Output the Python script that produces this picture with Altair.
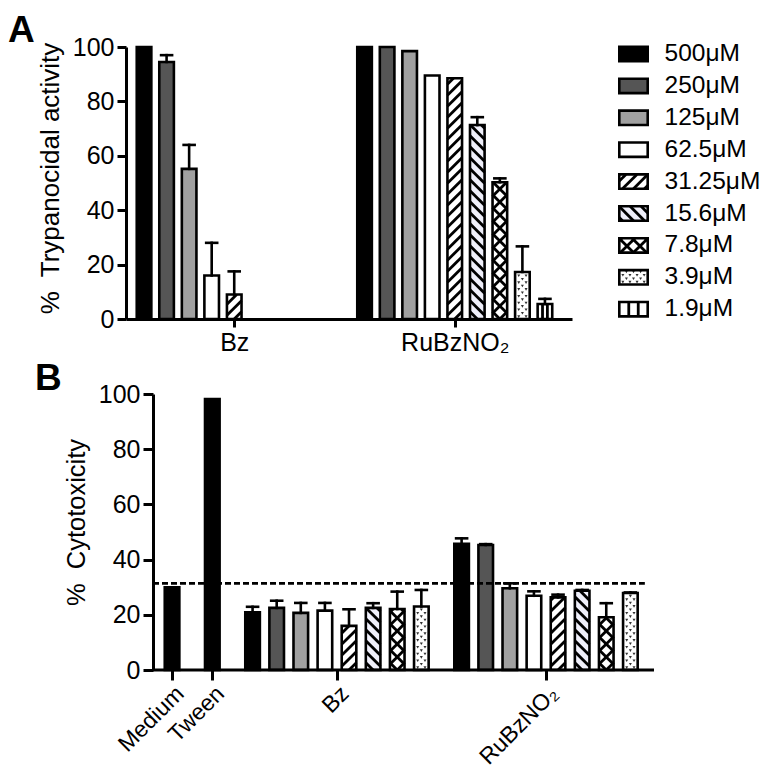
import math
import altair as alt
import pandas as pd

FONT = "Liberation Sans"

# ---------------- data ----------------
CONCS = ["500μM", "250μM", "125μM", "62.5μM", "31.25μM", "15.6μM", "7.8μM", "3.9μM", "1.9μM"]

A_GROUPS = ["Bz", "RuBzNO₂"]
A_BZ_MEAN = [100, 94.5, 55.2, 16.0, 9.0, 0, 0, 0, 0]
A_BZ_ERR = [0, 2.5, 8.8, 12.0, 8.5, 0, 0, 0, 0]
A_RU_MEAN = [100, 100, 98.5, 89.5, 88.5, 71.3, 50.3, 17.3, 5.5]
A_RU_ERR = [0, 0, 0, 0, 0, 2.9, 1.4, 9.4, 1.9]

B_GROUPS = ["Medium", "Tween", "Bz", "RuBzNO₂"]
B_CTRL_MEAN = [30.0, 98.2]
B_CTRL_ERR = [0.0, 0.0]
B_BZ_MEAN = [20.9, 22.5, 20.7, 21.5, 16.0, 22.5, 22.1, 23.0]
B_BZ_ERR = [2.0, 2.6, 3.6, 2.8, 6.0, 1.7, 6.3, 6.0]
B_RU_MEAN = [45.7, 45.3, 29.6, 26.9, 26.3, 28.7, 19.1, 27.9]
B_RU_ERR = [2.0, 0.3, 1.8, 1.6, 1.0, 0.3, 5.1, 0.2]
B_THRESHOLD = 31.4

A_YTITLE = "%\u00a0 Trypanocidal activity"
B_YTITLE = "%\u00a0 Cytotoxicity"

# ---------------- styles ----------------
FILLS = ["#000000", "#555555", "#a0a0a0", "#ffffff", "#ffffff", "#efeffa", "#ffffff", "#ffffff", "#ffffff"]
PATTERNS = [None, None, None, None, "fwd", "back", "cross", "dots", "vert"]
CTRL_KEY = "control"
FILL_SCALE = alt.Scale(domain=CONCS + [CTRL_KEY], range=FILLS + ["#000000"])

# ---------------- layout constants ----------------
A_W, A_H = 446, 272
B_W, B_H = 501, 276
B_SHIFT_PX = 27          # panel B axis sits this far right of panel A's axis
A_GAP, B_GAP = 0.78, 0.67
A_PAD_L, A_PAD_R = 0.8, 1.2
B_PAD_L, B_PAD_R = 0.79, 0.98
BAR_HALF_PX = 7.3
CAP_HALF_PX = 5.5
OUTLINE_W = 2.6
HATCH_W = 2.8
LABEL_FS = 25
B_XLABEL_FS = 23
LEGEND_FS = 24.5


def positions(sizes, gap):
    out, p = [], 0.0
    for n in sizes:
        out.append([p + i for i in range(n)])
        p += n + gap
    return out


a_pos = positions([9, 9], A_GAP)
A_XMIN, A_XMAX = -A_PAD_L, a_pos[-1][-1] + A_PAD_R
A_UX, A_UY = A_W / (A_XMAX - A_XMIN), A_H / 100.0

b_pos = positions([1, 1, 8, 8], B_GAP)
B_XMIN, B_XMAX = -B_PAD_L, b_pos[-1][-1] + B_PAD_R
B_UX, B_UY = B_W / (B_XMAX - B_XMIN), B_H / 100.0
B_XMIN_VIEW = B_XMIN - B_SHIFT_PX / B_UX


# ---------------- hatch geometry ----------------
def clip(x0, y0, x1, y1, xmin, xmax, ymin, ymax):
    dx, dy = x1 - x0, y1 - y0
    t0, t1 = 0.0, 1.0
    for p, q in ((-dx, x0 - xmin), (dx, xmax - x0), (-dy, y0 - ymin), (dy, ymax - y0)):
        if p == 0:
            if q < 0:
                return None
        else:
            t = q / p
            if p < 0:
                if t > t1:
                    return None
                t0 = max(t0, t)
            else:
                if t < t0:
                    return None
                t1 = min(t1, t)
    if t1 <= t0:
        return None
    sx0, sy0, sx1, sy1 = x0 + t0 * dx, y0 + t0 * dy, x0 + t1 * dx, y0 + t1 * dy
    if math.hypot(sx1 - sx0, sy1 - sy0) < 1.0:
        return None
    return (sx0, sy0, sx1, sy1)


def pattern_px(kind, xa, xb, ya, yb):
    segs, pts = [], []
    w, h = xb - xa, yb - ya
    xc = (xa + xb) / 2
    if kind in ("fwd", "back", "cross"):
        period = 13.0 if kind == "cross" else 11.0
        slopes = {"fwd": [1.0], "back": [-1.0], "cross": [1.0, -1.0]}[kind]
        n_lo = -int(math.ceil(w / period)) - 2
        n_hi = int(math.ceil(h / period)) + 2
        for s in slopes:
            for k in range(n_lo, n_hi + 1):
                c = ya + k * period
                xl, xr = xa - w - h - 10, xb + w + h + 10
                seg = clip(xl, c + s * (xl - xc), xr, c + s * (xr - xc), xa, xb, ya, yb)
                if seg:
                    segs.append(seg)
    elif kind == "vert":
        for f in (1 / 3, 2 / 3):
            segs.append((xa + f * w, ya, xa + f * w, yb))
    elif kind == "dots":
        j, y = 0, ya + 2.4
        n_cols = max(1, int(round(w / 7.0)))
        while y < yb - 1.8:
            if j % 2 == 0:
                cols = [(k + 0.5) / n_cols for k in range(n_cols)]
            else:
                cols = [k / n_cols for k in range(1, n_cols)] or [0.5]
            for f in cols:
                pts.append((xa + f * w, y))
            y += 3.4
            j += 1
    return segs, pts


def shapes_to_rows(items, ux, uy):
    """items: (centre_x_data, base_y_data, key, pattern, half_w_px, y0_px, y1_px)."""
    rects, segs, pts = [], [], []
    for cx, by, key, pat, hw, y0, y1 in items:
        rects.append(dict(xl=cx - hw / ux, xr=cx + hw / ux, y0=by + y0 / uy, y1=by + y1 / uy, key=key))
        if pat:
            s, p = pattern_px(pat, -hw, hw, y0, y1)
            for (a, b, c, d) in s:
                segs.append(dict(x=cx + a / ux, x2=cx + c / ux, y=by + b / uy, y2=by + d / uy))
            for (a, b) in p:
                pts.append(dict(x=cx + a / ux, y=by + b / uy))
    return rects, segs, pts


def filled_layers(rects, segs, pts, X, Y):
    rects = pd.DataFrame(rects)
    return [
        alt.Chart(rects).mark_rect(strokeWidth=0).encode(
            x=X("xl"), x2="xr:Q", y=Y("y0"), y2="y1:Q",
            fill=alt.Fill("key:N", scale=FILL_SCALE, legend=None)),
        alt.Chart(pd.DataFrame(segs)).mark_rule(color="black", strokeWidth=HATCH_W, strokeCap="butt").encode(
            x=X("x"), x2="x2:Q", y=Y("y"), y2="y2:Q"),
        alt.Chart(pd.DataFrame(pts)).mark_point(filled=True, shape="triangle-down", size=9,
                                                color="#333333", opacity=1).encode(x=X("x"), y=Y("y")),
        alt.Chart(rects).mark_rect(fillOpacity=0, stroke="black", strokeWidth=OUTLINE_W).encode(
            x=X("xl"), x2="xr:Q", y=Y("y0"), y2="y1:Q"),
    ]


# ---------------- panel builder ----------------
def build_panel(bars, ux, uy, xmin, xmax, xaxis, yaxis, width, height, extra_layers):
    items, err_rows = [], []
    for b in bars:
        if b["value"] <= 0:
            continue
        p, v = b["pos"], b["value"]
        items.append((p, 0.0, b["key"], b["pattern"], BAR_HALF_PX, 0.0, v * uy))
        if b["err"] > 0:
            top = v + b["err"]
            err_rows.append(dict(x=p, x2=p, y=v, y2=top))
            err_rows.append(dict(x=p - CAP_HALF_PX / ux, x2=p + CAP_HALF_PX / ux, y=top, y2=top))
    rects, segs, pts = shapes_to_rows(items, ux, uy)

    xs = alt.Scale(domain=[xmin, xmax], nice=False, zero=False)
    ys = alt.Scale(domain=[0, 100], nice=False)

    def X(f):
        return alt.X(f"{f}:Q", scale=xs, axis=xaxis)

    def Y(f):
        return alt.Y(f"{f}:Q", scale=ys, axis=yaxis)

    errs = alt.Chart(pd.DataFrame(err_rows)).mark_rule(
        color="black", strokeWidth=OUTLINE_W, strokeCap="square"
    ).encode(x=X("x"), x2="x2:Q", y=Y("y"), y2="y2:Q")
    layers = filled_layers(rects, segs, pts, X, Y) + [errs] + [f(X, Y) for f in extra_layers]
    return alt.layer(*layers).properties(width=width, height=height)


def label_expr(centers, names):
    expr = "''"
    for c, n in reversed(list(zip(centers, names))):
        expr = f"abs(datum.value - {c:.4f}) < 0.01 ? '{n}' : {expr}"
    return expr


def letter_layer(letter, dx, dy):
    return lambda X, Y: alt.Chart(pd.DataFrame({"t": [letter]})).mark_text(
        font=FONT, fontSize=37, fontWeight="bold", align="left", baseline="top", color="black"
    ).encode(text="t:N", x=alt.value(dx), y=alt.value(dy))


# ---------------- legend, drawn in panel A's coordinates ----------------
LEG_SW_CX_PX = 507.5      # swatch centre, px right of panel A's y axis
LEG_TXT_PX = 538.5        # label start, px right of panel A's y axis
LEG_ROW0_PX, LEG_ROW_PX = 7.0, 31.9
SW_HALF_W_PX, SW_HALF_H_PX = 14.2, 7.2


def legend_layers(X, Y):
    cx = A_XMIN + LEG_SW_CX_PX / A_UX
    tx = A_XMIN + LEG_TXT_PX / A_UX
    items, txt = [], []
    for i, c in enumerate(CONCS):
        cy = 100 - (LEG_ROW0_PX + i * LEG_ROW_PX) / A_UY
        items.append((cx, cy, c, PATTERNS[i], SW_HALF_W_PX, -SW_HALF_H_PX, SW_HALF_H_PX))
        txt.append(dict(x=tx, y=cy, label=c))
    rects, segs, pts = shapes_to_rows(items, A_UX, A_UY)
    text = alt.Chart(pd.DataFrame(txt)).mark_text(
        font=FONT, fontSize=LEGEND_FS, align="left", baseline="middle", color="black"
    ).encode(x=X("x"), y=Y("y"), text="label:N")
    return alt.layer(*(filled_layers(rects, segs, pts, X, Y) + [text]))


# ---------------- panel A ----------------
bars_a = []
for g, (means, errs) in enumerate([(A_BZ_MEAN, A_BZ_ERR), (A_RU_MEAN, A_RU_ERR)]):
    for i, (m, e) in enumerate(zip(means, errs)):
        bars_a.append(dict(pos=a_pos[g][i], value=m, err=e, key=CONCS[i], pattern=PATTERNS[i]))

a_centers = [round(sum(p) / len(p), 4) for p in a_pos]
a_xaxis = alt.Axis(values=a_centers, labelExpr=label_expr(a_centers, A_GROUPS), tickSize=8,
                   labelPadding=3, labelAngle=0, labelAlign="center", labelBaseline="top",
                   title=None, labelOverlap=False, labelFlush=False, labelFontSize=LABEL_FS,
                   labelFont=FONT)
a_yaxis = alt.Axis(values=[0, 20, 40, 60, 80, 100], tickSize=9, labelPadding=3,
                   title=A_YTITLE, titlePadding=9, titleFontSize=26, labelFontSize=LABEL_FS,
                   titleFont=FONT, labelFont=FONT, titleY=131)

panel_a = build_panel(bars_a, A_UX, A_UY, A_XMIN, A_XMAX, a_xaxis, a_yaxis, A_W, A_H,
                      [letter_layer("A", -118, -34), legend_layers])

# ---------------- panel B ----------------
bars_b = []
for g, (m, e) in enumerate(zip(B_CTRL_MEAN, B_CTRL_ERR)):
    bars_b.append(dict(pos=b_pos[g][0], value=m, err=e, key=CTRL_KEY, pattern=None))
for g, (means, errs) in enumerate([(B_BZ_MEAN, B_BZ_ERR), (B_RU_MEAN, B_RU_ERR)]):
    for i, (m, e) in enumerate(zip(means, errs)):
        bars_b.append(dict(pos=b_pos[g + 2][i], value=m, err=e, key=CONCS[i], pattern=PATTERNS[i]))

b_centers = [round(sum(p) / len(p), 4) for p in b_pos]
b_xaxis = alt.Axis(values=b_centers, labelExpr=label_expr(b_centers, B_GROUPS), tickSize=10,
                   labelPadding=2, labelAngle=-45, labelAlign="right", labelBaseline="top",
                   title=None, labelOverlap=False, labelFlush=False, labelFontSize=B_XLABEL_FS,
                   labelFont=FONT, domain=False)
b_yaxis = alt.Axis(values=[0, 20, 40, 60, 80, 100], tickSize=10, labelPadding=3,
                   title=B_YTITLE, titlePadding=9, titleFontSize=25.5, labelFontSize=LABEL_FS,
                   titleFont=FONT, labelFont=FONT, offset=-B_SHIFT_PX, titleY=128)

thr_df = pd.DataFrame({"x": [B_XMIN], "x2": [b_pos[-1][-1] + 0.6], "y": [B_THRESHOLD]})
base_df = pd.DataFrame({"x": [B_XMIN], "x2": [B_XMAX], "y": [0.0]})


def threshold_layer(X, Y):
    return alt.Chart(thr_df).mark_rule(color="black", strokeWidth=2.6, strokeDash=[6, 3]).encode(
        x=X("x"), x2="x2:Q", y=Y("y"))


def baseline_layer(X, Y):
    return alt.Chart(base_df).mark_rule(color="black", strokeWidth=3).encode(
        x=X("x"), x2="x2:Q", y=Y("y"))


panel_b = build_panel(bars_b, B_UX, B_UY, B_XMIN_VIEW, B_XMAX, b_xaxis, b_yaxis,
                      B_W + B_SHIFT_PX, B_H,
                      [baseline_layer, threshold_layer, letter_layer("B", -118 + B_SHIFT_PX, -33)])

chart = alt.vconcat(panel_a, panel_b, spacing=5).properties(
    padding={"top": 4, "left": 0, "right": 0, "bottom": 0}
).configure_view(
    stroke=None
).configure_axis(
    domainColor="black", domainWidth=3, tickColor="black", tickWidth=3,
    labelColor="black", titleColor="black", labelFont=FONT, titleFont=FONT,
    labelFontSize=LABEL_FS, titleFontSize=25, titleFontWeight="normal", grid=False,
)

chart.save("out.html", embed_options={"renderer": "svg", "actions": False})
